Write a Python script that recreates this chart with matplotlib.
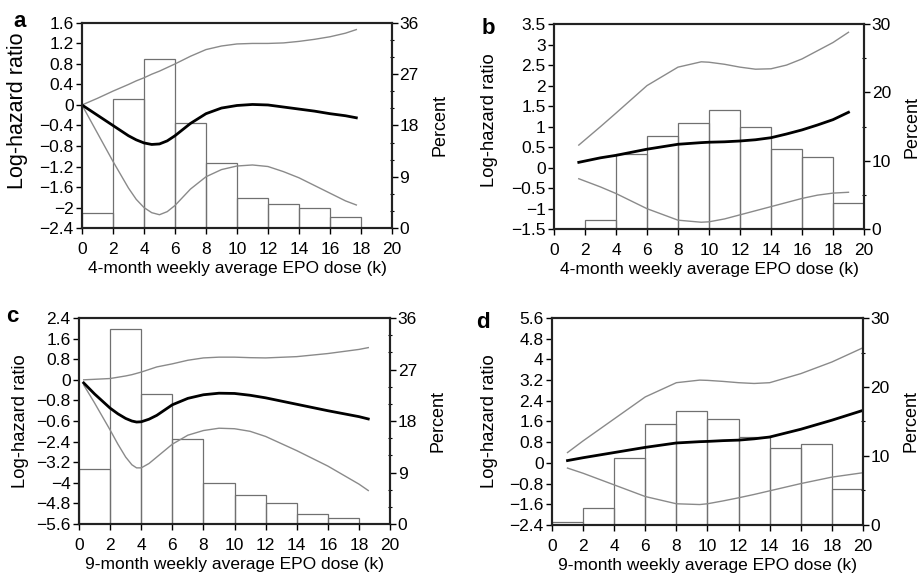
"""
Log-hazard ratio splines with EPO dose histograms, four panels.
"""
import numpy as np
import matplotlib
matplotlib.use('Agg')
import matplotlib.pyplot as plt
from matplotlib.ticker import FuncFormatter

font = {'family': ['Liberation Sans', 'DejaVu Sans'], 'size': 12}
matplotlib.rc('font', **font)

# histogram bins (left edges, width 2k)
bins_a = [0, 2, 4, 6, 8, 10, 12, 14, 16]
pct_a = [2.6, 22.6, 29.7, 18.4, 11.4, 5.2, 4.3, 3.6, 2.0]
bins_b = [0, 2, 4, 6, 8, 10, 12, 14, 16, 18]
pct_b = [0.1, 1.3, 11.0, 13.7, 15.5, 17.4, 15.0, 11.8, 10.6, 3.9]
bins_c = [0, 2, 4, 6, 8, 10, 12, 14, 16]
pct_c = [9.7, 34.0, 22.7, 14.8, 7.1, 5.1, 3.6, 1.8, 1.1]
bins_d = [0, 2, 4, 6, 8, 10, 12, 14, 16, 18]
pct_d = [0.5, 2.5, 9.7, 14.6, 16.5, 15.3, 12.7, 11.1, 11.7, 5.2]

# spline estimates (dose, estimate, lower, upper)
dose_a = [0, 1, 2, 3, 3.5, 4, 4.5, 5, 5.5, 6, 7, 8, 9, 10, 11, 12, 13, 14, 15, 16, 17, 17.7]
est_a = [0, -0.2, -0.4, -0.6, -0.68, -0.74, -0.77, -0.76, -0.7, -0.6, -0.36, -0.17, -0.06,
         -0.01, 0.01, 0.0, -0.04, -0.08, -0.12, -0.17, -0.21, -0.25]
low_a = [0, -0.55, -1.1, -1.62, -1.84, -2.0, -2.1, -2.14, -2.08, -1.96, -1.64, -1.4, -1.26,
         -1.19, -1.17, -1.2, -1.3, -1.42, -1.57, -1.72, -1.87, -1.95]
up_a = [0, 0.13, 0.27, 0.4, 0.47, 0.53, 0.6, 0.66, 0.73, 0.8, 0.95, 1.08, 1.15, 1.19, 1.2,
        1.2, 1.21, 1.24, 1.28, 1.33, 1.4, 1.47]

dose_b = [1.6, 3, 4, 6, 8, 9.5, 10, 11, 12, 13, 14, 15, 16, 17, 18, 19]
est_b = [0.13, 0.24, 0.3, 0.45, 0.57, 0.61, 0.62, 0.63, 0.65, 0.68, 0.73, 0.82, 0.92, 1.04,
         1.17, 1.35]
low_b = [-0.27, -0.47, -0.63, -1.0, -1.28, -1.33, -1.32, -1.25, -1.15, -1.05, -0.95, -0.85,
         -0.75, -0.67, -0.62, -0.6]
up_b = [0.55, 1.0, 1.33, 2.0, 2.45, 2.58, 2.57, 2.52, 2.45, 2.4, 2.41, 2.5, 2.65, 2.85,
        3.05, 3.3]

dose_c = [0.3, 1, 2, 2.5, 3, 3.4, 3.7, 4, 4.5, 5, 6, 7, 8, 9, 10, 11, 12, 14, 16, 18, 18.6]
est_c = [-0.12, -0.55, -1.1, -1.32, -1.5, -1.6, -1.64, -1.63, -1.53, -1.38, -0.97, -0.72,
         -0.58, -0.52, -0.53, -0.6, -0.7, -0.95, -1.2, -1.43, -1.52]
low_c = [-0.2, -0.9, -1.95, -2.5, -3.0, -3.3, -3.42, -3.42, -3.25, -3.0, -2.5, -2.15,
         -1.97, -1.88, -1.9, -2.0, -2.2, -2.75, -3.35, -4.05, -4.3]
up_c = [0.0, 0.02, 0.05, 0.1, 0.15, 0.2, 0.25, 0.3, 0.4, 0.5, 0.62, 0.76, 0.85, 0.88, 0.88,
        0.86, 0.85, 0.9, 1.02, 1.18, 1.25]

dose_d = [1, 2, 4, 6, 8, 9.5, 10, 11, 12, 13, 14, 16, 18, 20]
est_d = [0.09, 0.2, 0.4, 0.6, 0.77, 0.82, 0.83, 0.86, 0.88, 0.93, 1.0, 1.3, 1.65, 2.03]
low_d = [-0.2, -0.4, -0.85, -1.3, -1.58, -1.61, -1.58, -1.47, -1.35, -1.22, -1.08, -0.8,
         -0.55, -0.38]
up_d = [0.4, 0.85, 1.7, 2.55, 3.1, 3.2, 3.19, 3.15, 3.1, 3.07, 3.1, 3.45, 3.9, 4.45]

yticks_c = [2.4, 1.6, 0.8, 0, -0.8, -1.6, -2.4, -3.2, -4, -4.8, -5.6]
# the published panel c prints "-0.6" where -1.6 belongs
ylabels_c = ['2.4', '1.6', '0.8', '0', '\u22120.8', '\u22120.6', '\u22122.4', '\u22123.2',
             '\u22124', '\u22124.8', '\u22125.6']

FRAME = 1.5
GREY = '#8a8a8a'


def short_fmt(v, pos):
    if abs(v) < 1e-9:
        return '0'
    s = '%g' % round(v, 2)
    return s.replace('-', '\u2212')


def draw_panel(fig, rect, letter, lpos, xlabel, bins, pct, dose, est, low, up,
               ylim, yticks, pmax, pstep, pminor, ylabels=None, ylab_size=13.2,
               ylab_xy=(-0.175, 0.5)):
    ax = fig.add_axes(rect)
    ax2 = ax.twinx()
    # histogram behind the curves
    ax2.bar(bins, pct, width=2, align='edge', fill=False, edgecolor='#707070',
            linewidth=0.9)
    ax2.set_ylim(0, pmax)
    ax2.set_yticks(np.arange(0, pmax + 0.1, pstep))
    ax2.set_yticks(np.arange(0, pmax + 0.1, pminor), minor=True)
    ax2.tick_params(axis='y', which='major', direction='out', length=4, width=1.0, pad=1.5,
                    labelsize=12.5)
    ax2.tick_params(axis='y', which='minor', direction='inout', length=3, width=0.8)
    ax2.set_ylabel('Percent', fontsize=13, labelpad=9)

    ax.set_zorder(ax2.get_zorder() + 1)
    ax.patch.set_visible(False)
    ax.plot(dose, up, color=GREY, linewidth=1.0)
    ax.plot(dose, low, color=GREY, linewidth=1.0)
    ax.plot(dose, est, color='black', linewidth=2.0)

    ax.set_xlim(0, 20)
    ax.set_xticks(range(0, 21, 2))
    ax.set_ylim(*ylim)
    ax.set_yticks(yticks)
    if ylabels is not None:
        ax.set_yticklabels(ylabels)
    else:
        ax.yaxis.set_major_formatter(FuncFormatter(short_fmt))
    ax.tick_params(axis='y', direction='out', length=4, width=1.0, labelsize=12.5, pad=2)
    ax.tick_params(axis='x', direction='out', length=4, width=1.0, labelsize=12.5, pad=6)
    ax.set_ylabel('Log-hazard ratio', fontsize=ylab_size)
    ax.yaxis.set_label_coords(*ylab_xy)
    ax.set_xlabel(xlabel, fontsize=12.5, labelpad=3)
    for a in (ax, ax2):
        for s in a.spines.values():
            s.set_linewidth(FRAME)
            s.set_color('#222222')
    fig.text(lpos[0], lpos[1], letter, fontsize=16, fontweight='bold',
             ha='left', va='center')
    return ax


fig = plt.figure(figsize=(9.21, 5.73), dpi=100, facecolor='white')

draw_panel(fig, [0.089, 0.602, 0.3366, 0.358], 'a', (0.015, 0.963),
           '4-month weekly average EPO dose (k)', bins_a, pct_a, dose_a, est_a, low_a, up_a,
           (-2.4, 1.6), np.round(np.arange(-2.4, 1.61, 0.4), 1), 36, 9, 3,
           ylab_size=15.5, ylab_xy=(-0.175, 0.57))
draw_panel(fig, [0.6015, 0.600, 0.3366, 0.358], 'b', (0.523, 0.951),
           '4-month weekly average EPO dose (k)', bins_b, pct_b, dose_b, est_b, low_b, up_b,
           (-1.5, 3.5), np.round(np.arange(-1.5, 3.51, 0.5), 1), 30, 10, 5,
           ylab_xy=(-0.18, 0.53))
draw_panel(fig, [0.0858, 0.0855, 0.3377, 0.3595], 'c', (0.007, 0.448),
           '9-month weekly average EPO dose (k)', bins_c, pct_c, dose_c, est_c, low_c, up_c,
           (-5.6, 2.4), yticks_c, 36, 9, 3, ylabels=ylabels_c, ylab_xy=(-0.16, 0.5))
draw_panel(fig, [0.5993, 0.0838, 0.3377, 0.3612], 'd', (0.517, 0.438),
           '9-month weekly average EPO dose (k)', bins_d, pct_d, dose_d, est_d, low_d, up_d,
           (-2.4, 5.6), np.round(np.arange(-2.4, 5.61, 0.8), 1), 30, 10, 5,
           ylab_xy=(-0.175, 0.5))

plt.savefig('out.png', dpi=100, facecolor='white')
plt.close()
